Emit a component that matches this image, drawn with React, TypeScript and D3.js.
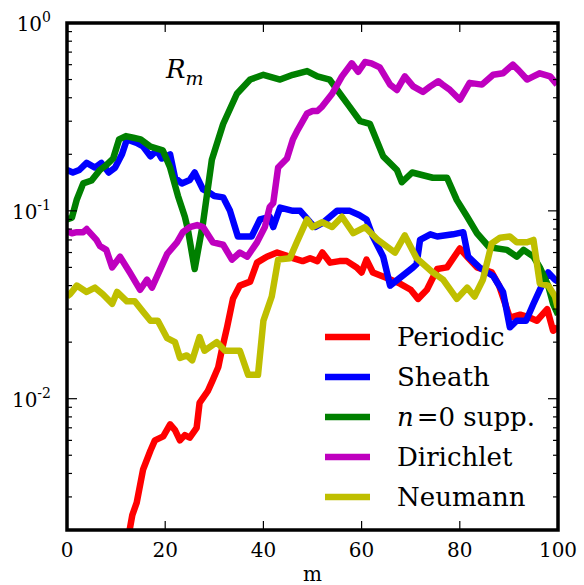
import React from "react";
import * as d3 from "d3";

const periodicM = [12.6,13.3,14.2,15.5,17,17.9,19.6,21,22,23,24,25,26.4,27,28.7,29.7,30.8,31.5,32.6,33.8,35.2,37.3,38.7,40.7,42.8,44.5,46,48,49.5,51,52,53.6,55.5,57,59,60,61,62.3,65,67.8,70,71.5,73.3,75.4,77.4,80,81.5,83.5,86.5,88,90.2,92.3,94.3,95.7,97.8,99,100];
const periodicR = [0.0019,0.0024,0.0028,0.0042,0.0053,0.006,0.0063,0.0073,0.0068,0.006,0.0064,0.0062,0.007,0.0095,0.011,0.0126,0.0147,0.018,0.024,0.034,0.04,0.042,0.053,0.057,0.06,0.058,0.056,0.054,0.056,0.054,0.06,0.053,0.054,0.054,0.05,0.047,0.055,0.047,0.044,0.041,0.038,0.034,0.038,0.049,0.05,0.063,0.057,0.05,0.047,0.04,0.027,0.028,0.027,0.026,0.03,0.023,0.024];

const sheathM = [0,1.2,2.5,4,5.7,7,8.5,9.8,11.2,12.2,14.2,15.5,17,18.3,19.3,21,22,23.4,25,26,27.7,29,30,31.8,33.2,34.8,37.6,39.3,41.3,42,43.4,46,47.5,49.5,50.5,52,55,57.6,59.5,61,62.3,64.4,65.8,67.8,70.5,71.2,71.9,74,75.4,78.6,80.7,81.7,84,86.8,88.8,90.2,91.6,93.5,95,96.3,98,99.4,100];
const sheathR = [0.165,0.16,0.165,0.18,0.17,0.18,0.16,0.17,0.2,0.24,0.23,0.22,0.195,0.21,0.19,0.2,0.15,0.14,0.146,0.16,0.13,0.125,0.12,0.118,0.1,0.073,0.073,0.09,0.093,0.082,0.104,0.1,0.1,0.087,0.082,0.086,0.1,0.1,0.095,0.09,0.073,0.057,0.04,0.044,0.05,0.052,0.07,0.075,0.073,0.075,0.077,0.057,0.05,0.045,0.037,0.024,0.026,0.026,0.032,0.038,0.047,0.043,0.042];

const suppM = [0,1,2,3.3,5,6.7,8,9.4,10.6,12,13.5,15,17,19.5,21,22.6,24,24.6,26,27.7,29.5,31.8,34.6,37.3,40,43.4,46,48.9,51,53.5,55.6,57.5,59.7,61.7,64.4,67.2,68.2,70.3,74.5,77.4,79.4,81.5,83.5,86,89.6,91.6,93,95,96.3,98,99,100];
const suppR = [0.09,0.092,0.115,0.14,0.145,0.165,0.175,0.19,0.24,0.25,0.245,0.24,0.22,0.21,0.17,0.12,0.093,0.08,0.049,0.086,0.187,0.29,0.42,0.5,0.53,0.5,0.53,0.555,0.52,0.5,0.42,0.36,0.3,0.29,0.195,0.165,0.142,0.16,0.15,0.15,0.114,0.093,0.076,0.064,0.062,0.057,0.062,0.057,0.05,0.04,0.032,0.028];

const dirichletM = [0,1,2,3.3,4,6,6.7,8,9.2,10.8,12.8,14.9,16.3,17.3,19,20.4,22.4,23.6,25,26.5,27.7,29.7,31.8,33.6,35.2,36.7,38.7,40.3,41.3,42,43,44.8,46,47,48.9,50,51,52,54,56,58,59.3,60.7,62,63.7,65.8,67.2,68.8,70.5,72.5,74,75.6,76.5,78,80,82,84.5,86.8,88.8,90.8,92,93.7,95,96.3,98.4,99.8];
const dirichletR = [0.078,0.076,0.077,0.077,0.08,0.07,0.065,0.062,0.05,0.057,0.047,0.038,0.043,0.039,0.049,0.059,0.068,0.077,0.082,0.084,0.082,0.068,0.066,0.055,0.06,0.057,0.068,0.082,0.105,0.11,0.17,0.19,0.24,0.27,0.33,0.34,0.34,0.36,0.42,0.52,0.61,0.55,0.62,0.61,0.58,0.47,0.44,0.52,0.46,0.43,0.46,0.49,0.47,0.44,0.39,0.48,0.47,0.53,0.54,0.6,0.56,0.5,0.52,0.54,0.52,0.47];

const neumannM = [0,0.6,2,4,5.7,7.3,9.2,10.2,12.2,13.8,15.5,17,18.5,20.4,22,23,24.4,25.5,27,28,30.5,32.2,35.2,36.9,38.9,40,41.7,43,45.4,46.8,48.9,50,52,54,56,58.3,60.7,63.3,66.8,68.8,71.2,74.5,76.6,79.4,81.5,83,84.7,86.5,88.2,90.2,91.6,93.7,95,96.3,98,99.4,100];
const neumannR = [0.035,0.036,0.04,0.037,0.039,0.036,0.032,0.037,0.033,0.033,0.029,0.026,0.026,0.021,0.02,0.0165,0.017,0.016,0.0213,0.018,0.02,0.018,0.018,0.0134,0.0134,0.026,0.035,0.055,0.056,0.068,0.09,0.082,0.087,0.082,0.093,0.076,0.082,0.07,0.06,0.074,0.056,0.047,0.043,0.034,0.039,0.035,0.043,0.067,0.072,0.073,0.068,0.068,0.07,0.041,0.04,0.035,0.03];

const seriesNames = ["Periodic", "Sheath", "n=0 supp.", "Dirichlet", "Neumann"];
const seriesColors = ["#ff0000", "#0000ff", "#008000", "#bf00bf", "#bfbf00"];
const seriesData = [
  [periodicM, periodicR],
  [sheathM, sheathR],
  [suppM, suppR],
  [dirichletM, dirichletR],
  [neumannM, neumannR],
];

const xTicks = [0, 20, 40, 60, 80, 100];
const yMajor = [1, 0.1, 0.01];
const yMajorExp = ["0", "-1", "-2"];

const W = 584, H = 585;
const L = 67, R = 558, T = 23, B = 530;

export default function App() {
  const x = d3.scaleLinear().domain([0, 100]).range([L, R]);
  const y = d3.scaleLog().domain([0.002, 1]).range([B, T]);
  const line = d3.line<[number, number]>().x(d => x(d[0])).y(d => y(d[1])).curve(d3.curveLinear);

  const minor: number[] = [];
  for (const dec of [0.001, 0.01, 0.1]) {
    for (let k = 2; k <= 9; k++) {
      const v = k * dec;
      if (v > 0.002 && v < 1) minor.push(v);
    }
  }
  const serif = "DejaVu Serif, serif";

  return (
    <svg width={W} height={H} style={{ position: "absolute", left: 0, top: 0, background: "#fff" }}>
      <rect x={0} y={0} width={W} height={H} fill="#fff" />
      <defs>
        <clipPath id="plotclip">
          <rect x={L} y={T} width={R - L} height={B - T} />
        </clipPath>
      </defs>
      <g clipPath="url(#plotclip)">
        {seriesData.map((s, i) => {
          const pts: [number, number][] = s[0].map((m, j) => [m, s[1][j]]);
          return (
            <path key={i} d={line(pts) || ""} fill="none" stroke={seriesColors[i]}
              strokeWidth={6.5} strokeLinejoin="round" strokeLinecap="butt" />
          );
        })}
      </g>
      <g stroke="#000" strokeWidth={1.2}>
        {xTicks.map(t => (
          <g key={t}>
            <line x1={x(t)} x2={x(t)} y1={B} y2={B - 9} />
            <line x1={x(t)} x2={x(t)} y1={T} y2={T + 9} />
          </g>
        ))}
        {yMajor.map(t => (
          <g key={t}>
            <line x1={L} x2={L + 10} y1={y(t)} y2={y(t)} />
            <line x1={R} x2={R - 10} y1={y(t)} y2={y(t)} />
          </g>
        ))}
        {minor.map(t => (
          <g key={t}>
            <line x1={L} x2={L + 5} y1={y(t)} y2={y(t)} />
            <line x1={R} x2={R - 5} y1={y(t)} y2={y(t)} />
          </g>
        ))}
      </g>
      <rect x={L} y={T} width={R - L} height={B - T} fill="none" stroke="#000" strokeWidth={3.5} />
      {xTicks.map(t => (
        <text key={t} x={x(t)} y={557} textAnchor="middle" fontFamily={serif} fontSize={20} fill="#000">{t}</text>
      ))}
      {yMajor.map((t, i) => (
        <text key={t} x={51} y={y(t) + 8} textAnchor="end" fontFamily={serif} fontSize={20} fill="#000">
          <tspan>10</tspan>
          <tspan dy={-9} fontSize={14}>{yMajorExp[i]}</tspan>
        </text>
      ))}
      <text x={(L + R) / 2} y={581} textAnchor="middle" fontFamily={serif} fontSize={20} fill="#000">m</text>
      <text x={166} y={78} fontFamily={serif} fontStyle="italic" fontSize={26} fill="#000">
        <tspan>R</tspan>
        <tspan dy={7} fontSize={19}>m</tspan>
      </text>
      {seriesNames.map((n, i) => {
        const ly = 337 + i * 40;
        return (
          <g key={n}>
            <line x1={325} x2={370} y1={ly} y2={ly} stroke={seriesColors[i]} strokeWidth={6.5} />
            {i === 2 ? (
              <text x={397} y={ly + 9} fontFamily={serif} fontSize={26} fill="#000">
                <tspan fontStyle="italic">n</tspan>
                <tspan dx={3}>=</tspan>
                <tspan>0</tspan>
                <tspan> supp.</tspan>
              </text>
            ) : (
              <text x={397} y={ly + 9} fontFamily={serif} fontSize={26} fill="#000">{n}</text>
            )}
          </g>
        );
      })}
    </svg>
  );
}
